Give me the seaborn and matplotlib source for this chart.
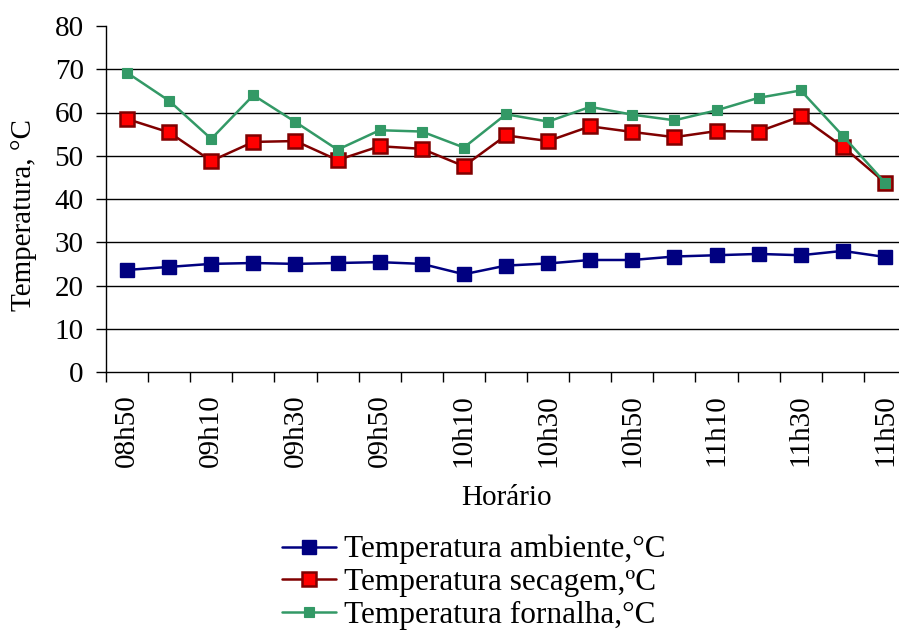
import numpy as np
import pandas as pd
import matplotlib
matplotlib.use("Agg")
import matplotlib.pyplot as plt
import seaborn as sns

# Horários de medição (intervalos de 10 min)
horarios = ["08h50", "09h00", "09h10", "09h20", "09h30", "09h40", "09h50",
            "10h00", "10h10", "10h20", "10h30", "10h40", "10h50", "11h00",
            "11h10", "11h20", "11h30", "11h40", "11h50"]

temp_ambiente = [23.6, 24.3, 25.0, 25.2, 25.0, 25.2, 25.4, 25.0, 22.6, 24.6,
                 25.1, 25.9, 25.9, 26.7, 27.0, 27.3, 27.0, 28.0, 26.6]
temp_secagem = [58.5, 55.4, 48.8, 53.2, 53.4, 49.0, 52.2, 51.6, 47.6, 54.7,
                53.4, 56.8, 55.5, 54.3, 55.7, 55.6, 59.1, 52.1, 43.8]
temp_fornalha = [69.2, 62.7, 53.9, 64.0, 57.8, 51.4, 55.9, 55.6, 51.9, 59.6,
                 57.9, 61.3, 59.5, 58.2, 60.5, 63.4, 65.1, 54.6, 43.8]

series = ["Temperatura ambiente,°C", "Temperatura secagem,ºC", "Temperatura fornalha,°C"]
valores = [temp_ambiente, temp_secagem, temp_fornalha]

df = pd.DataFrame({
    "pos": np.tile(np.arange(len(horarios)), len(series)),
    "Horário": horarios * len(series),
    "valor": np.concatenate(valores),
    "serie": np.repeat(series, len(horarios)),
})

sns.set_theme(style="white")
plt.rcParams["font.family"] = ["Liberation Serif", "DejaVu Serif"]
for k in ("text.color", "axes.labelcolor", "xtick.color", "ytick.color"):
    plt.rcParams[k] = "black"

fig = plt.figure(figsize=(8.99, 6.36), dpi=100)
ax = fig.add_axes([106 / 899, 1 - 372 / 636, (906 - 106) / 899, (372 - 26) / 636])

estilos = {
    series[0]: dict(color="#000080", markerfacecolor="#000080", markeredgecolor="#000080",
                    markersize=10.5, markeredgewidth=1.0, zorder=3),
    series[1]: dict(color="#800000", markerfacecolor="#FF0000", markeredgecolor="#800000",
                    markersize=10, markeredgewidth=1.8, zorder=3),
    series[2]: dict(color="#339966", markerfacecolor="#339966", markeredgecolor="#339966",
                    markersize=6.5, markeredgewidth=0.8, zorder=4),
}

for s in series:
    sub = df[df["serie"] == s]
    sns.lineplot(data=sub, x="pos", y="valor", ax=ax, marker="s", linewidth=1.8,
                 label=s, **estilos[s])

ax.set_xlim(-0.5, len(horarios) - 0.5)
ax.set_ylim(0, 80)
ax.set_yticks(np.arange(0, 81, 10))

# rótulos a cada 20 min, marcas nas divisões entre categorias
ax.set_xticks(np.arange(0, len(horarios), 2))
ax.set_xticklabels(horarios[::2], rotation=90)
ax.set_xticks(np.arange(-0.5, len(horarios), 1), minor=True)
ax.tick_params(axis="x", which="major", length=0, pad=16, labelsize=21)
ax.tick_params(axis="x", which="minor", length=7, width=1, color="black", direction="out")
ax.tick_params(axis="y", which="major", length=7, width=1, color="black", direction="out",
               labelsize=21, pad=9)
ax.tick_params(bottom=True, left=True, which="both")

ax.yaxis.grid(True, color="black", linewidth=1)
ax.xaxis.grid(False)
for gl, v in zip(ax.get_ygridlines(), ax.get_yticks()):
    if v in (0, 80):
        gl.set_visible(False)

for side in ("top", "right"):
    ax.spines[side].set_visible(False)
for side in ("left", "bottom"):
    ax.spines[side].set_color("black")
    ax.spines[side].set_linewidth(1)

ax.set_xlabel("Horário", fontsize=21)
ax.set_ylabel("Temperatura, °C", fontsize=21)
ax.xaxis.set_label_coords(0.5, -(498 - 372) / 346, transform=ax.transAxes)
ax.yaxis.set_label_coords(-(106 - 24) / 800, (372 - 215) / 346, transform=ax.transAxes)
ax.xaxis.label.set_va("center")
ax.yaxis.label.set_va("center")

leg = ax.legend(loc="upper left", bbox_to_anchor=(282 / 899, 1 - 535 / 636),
                bbox_transform=fig.transFigure, frameon=False, fontsize=22.5,
                handlelength=1.73, handletextpad=0.26, labelspacing=0.12,
                borderaxespad=0, borderpad=0)

fig.savefig("out.png", dpi=100)
